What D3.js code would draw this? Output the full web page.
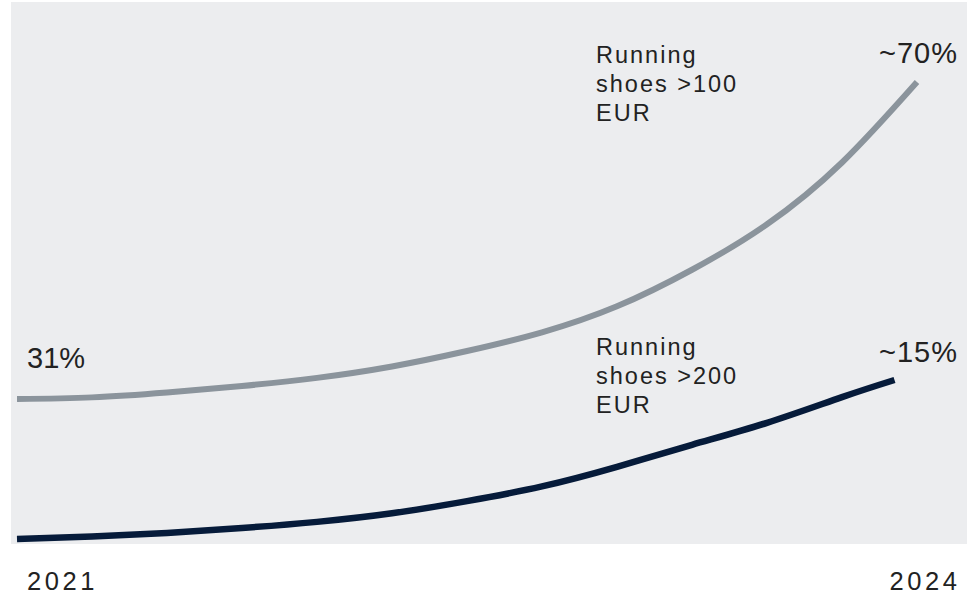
<!DOCTYPE html>
<html>
<head>
<meta charset="utf-8">
<script src="https://cdn.jsdelivr.net/npm/d3@7"></script>
<style>
  html, body { margin: 0; padding: 0; background: #ffffff; }
  svg { display: block; }
  text { font-family: "Liberation Sans", Arial, Helvetica, sans-serif; fill: #222222; }
</style>
</head>
<body>
<svg id="chart" width="967" height="594"></svg>
<script>
// Quarter index since the start of 2021 (0 = 2021, 12 = 2024)
const quarters = [0, 1, 2, 3, 4, 5, 6, 7, 8, 9, 10, 11, 12];
const quartersPremium = [0, 1, 2, 3, 4, 5, 6, 7, 8, 9, 10, 11, 11.7];

// Share of running shoes above the price threshold, %
const over100 = [31.0, 31.2, 31.8, 32.6, 33.6, 35.0, 36.9, 39.2, 42.4, 46.9, 52.5, 60.1, 70];
const over200 = [2.0, 2.2, 2.5, 2.9, 3.4, 4.1, 5.1, 6.3, 7.9, 9.7, 11.5, 13.6, 15];

const seriesNames = [["Running", "shoes >100", "EUR"], ["Running", "shoes >200", "EUR"]];
const startLabels = ["31%", null];
const endLabels = ["~70%", "~15%"];
const yearLabels = ["2021", "2024"];

const svg = d3.select("#chart");

// Background panel
const panel = { x0: 11, x1: 967, y0: 2, y1: 544 };
svg.append("rect")
  .attr("x", panel.x0).attr("y", panel.y0)
  .attr("width", panel.x1 - panel.x0).attr("height", panel.y1 - panel.y0)
  .attr("fill", "#ecedef");

const x = d3.scaleLinear().domain([0, 12]).range([17, 917]);

// Each series is drawn on its own schematic vertical scale
const y100 = d3.scaleLinear().domain([31, 70]).range([399, 82]);
const y200 = d3.scaleLinear().domain([2, 15]).range([539, 380]);

const series = [
  { q: quarters, v: over100, y: y100, color: "#8b949c", width: 6 },
  { q: quartersPremium, v: over200, y: y200, color: "#061b3a", width: 6.5 }
];

series.forEach(s => {
  const pts = s.q.map((q, i) => [q, s.v[i]]);
  const line = d3.line()
    .x(d => x(d[0]))
    .y(d => s.y(d[1]))
    .curve(d3.curveNatural);
  svg.append("path")
    .datum(pts)
    .attr("d", line)
    .attr("fill", "none")
    .attr("stroke", s.color)
    .attr("stroke-width", s.width)
    .attr("stroke-linecap", "butt");
});

// Series names
const nameBlocks = [{ x: 596, y: 63 }, { x: 596, y: 355 }];
seriesNames.forEach((lines, k) => {
  const t = svg.append("text")
    .attr("x", nameBlocks[k].x).attr("y", nameBlocks[k].y)
    .attr("font-size", 23.5)
    .attr("letter-spacing", 2);
  lines.forEach((ln, i) => {
    t.append("tspan").attr("x", nameBlocks[k].x).attr("dy", i === 0 ? 0 : 29).text(ln);
  });
});

// Value labels
svg.append("text")
  .attr("x", 27).attr("y", 368)
  .attr("font-size", 29)
  .text(startLabels[0]);

const endPos = [63, 362];
endLabels.forEach((lab, k) => {
  svg.append("text")
    .attr("x", 958).attr("y", endPos[k])
    .attr("text-anchor", "end")
    .attr("font-size", 29)
    .attr("letter-spacing", 1)
    .text(lab);
});

// Year labels
svg.append("text")
  .attr("x", 27).attr("y", 590)
  .attr("font-size", 25.5)
  .attr("letter-spacing", 3.6)
  .text(yearLabels[0]);
svg.append("text")
  .attr("x", 960.6).attr("y", 590)
  .attr("text-anchor", "end")
  .attr("font-size", 25.5)
  .attr("letter-spacing", 3.6)
  .text(yearLabels[1]);
</script>
</body>
</html>
